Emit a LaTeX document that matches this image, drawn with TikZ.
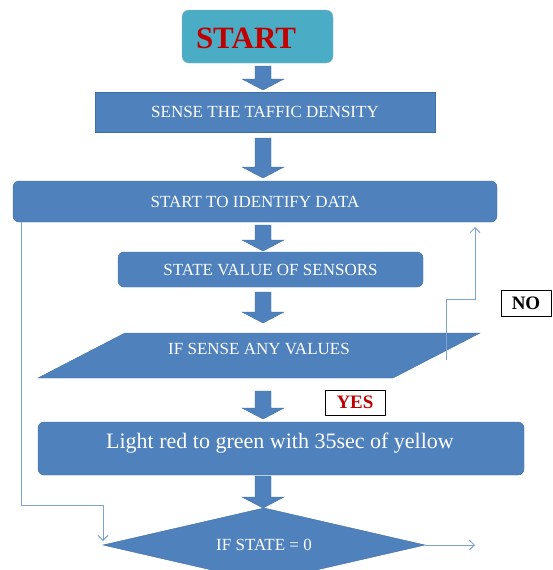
\documentclass[tikz,border=0pt]{standalone}
\usepackage{fontspec}
\setmainfont{Liberation Serif}
\usetikzlibrary{arrows.meta}
\definecolor{boxblue}{HTML}{4F81BD}
\definecolor{edgeblue}{HTML}{3F6FA6}
\definecolor{startteal}{HTML}{4BACC6}
\definecolor{startedge}{HTML}{8FB3C8}
\definecolor{loopblue}{HTML}{7DA3D6}
\definecolor{startred}{HTML}{C00000}

% block arrow between two boxes, drawn at x = 263
\newcommand{\blockarrow}[2]{%
  \filldraw[boxblue, draw=edgeblue, thin] (255,#1) -- (271,#1) -- (271,#2-11) -- (284,#2-11)
    -- (263,#2) -- (242,#2-11) -- (255,#2-11) -- cycle;}

\tikzset{
  flowbox/.style={draw=edgeblue, fill=boxblue, thin, inner sep=0pt, text=white,
    font=\fontsize{17}{19}\selectfont},
  roundbox/.style={flowbox, rounded corners=6pt},
  tagbox/.style={draw=black, fill=white, thick, inner sep=0pt,
    font=\bfseries\fontsize{19}{21}\selectfont},
  loopline/.style={draw=loopblue, line width=1pt, -{Straight Barb[length=5pt, width=10pt]}}
}

\begin{document}
\begin{tikzpicture}[x=1pt, y=-1pt]
  \useasboundingbox (0,0) rectangle (553,570);
  \clip (0,0) rectangle (553,570);
  % start
  \node[draw=startedge, fill=startteal, rounded corners=7pt, minimum width=151pt, minimum height=53pt] (start) at (257.5,36.5) {};
  \node[text=startred, font=\bfseries\fontsize{31}{34}\selectfont] (starttext) at (246,38) {START};
  % steps
  \node[flowbox, minimum width=340pt, minimum height=40pt] (sense) at (265,112) {SENSE THE TAFFIC DENSITY};
  \node[roundbox, minimum width=484pt, minimum height=41pt] (identify) at (255,201.5) {START TO IDENTIFY DATA};
  \node[roundbox, minimum width=305pt, minimum height=35pt] (state) at (270.5,269.5) {STATE VALUE OF SENSORS};
  % decision on sensed values
  \filldraw[boxblue, draw=edgeblue, thin] (125,333) -- (480,333) -- (393,378) -- (38,378) -- cycle;
  \node[flowbox, draw=none, fill=none] (sensed) at (259,349) {IF SENSE ANY VALUES};
  % light change
  \node[roundbox, minimum width=486pt, minimum height=53pt] (light) at (281,448.5) {};
  \node[text=white, font=\fontsize{22}{24}\selectfont] (lighttext) at (280,443) {Light red to green with 35sec of yellow};
  % final decision
  \filldraw[boxblue, draw=edgeblue, thin] (103,545) -- (264,508) -- (425,545) -- (264,582) -- cycle;
  \node[flowbox, draw=none, fill=none] (cond) at (264,545) {IF STATE = 0};
  \coordinate (dleft) at (103,545);
  \coordinate (dright) at (425,545);
  % block arrows
  \blockarrow{66}{90}
  \blockarrow{138}{178}
  \blockarrow{225}{251}
  \blockarrow{292}{323}
  \blockarrow{391}{419}
  \blockarrow{476}{508}
  % yes / no tags
  \node[tagbox, text=startred, minimum width=60pt, minimum height=25pt] (yes) at (355,402.5) {YES};
  \node[tagbox, minimum width=50pt, minimum height=26pt] (no) at (526,303) {NO};
  % loops
  \coordinate (nofrom) at (446,360);
  \coordinate (noto) at (475,227);
  \draw[loopline] ([xshift=9pt]identify.south west) -- ++(0,283) -| ([yshift=4pt]dleft);
  \draw[loopline] (nofrom) -- (446,299) -| (noto);
  \draw[loopline] (dright) -- ++(50,0);
\end{tikzpicture}
\end{document}
